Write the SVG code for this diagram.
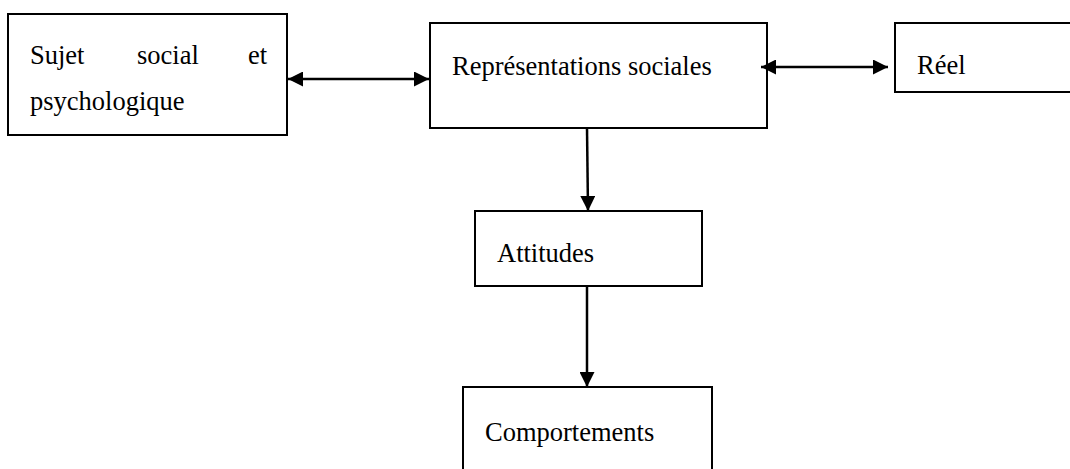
<svg xmlns="http://www.w3.org/2000/svg" width="1070" height="469" viewBox="0 0 1070 469">
  <style>
    .box { fill: #ffffff; stroke: #000000; stroke-width: 2; }
    .lbl { font-family: "Liberation Serif", "Times New Roman", serif; font-size: 26.5px; fill: #000000; }
    .conn { stroke: #000000; stroke-width: 2.5; fill: none; }
  </style>
  <defs>
    <marker id="ah" viewBox="0 0 16 16" refX="16" refY="8" markerWidth="16" markerHeight="15" markerUnits="userSpaceOnUse" orient="auto-start-reverse">
      <path d="M0,0 L16,8 L0,16 z" fill="#000000"/>
    </marker>
  </defs>
  <rect width="1070" height="469" fill="#ffffff"/>

  <g id="node-sujet">
    <rect class="box" x="8" y="14" width="279" height="121"/>
    <text class="lbl" x="30" y="64">Sujet</text>
    <text class="lbl" x="137" y="64">social</text>
    <text class="lbl" x="248" y="64">et</text>
    <text class="lbl" x="30" y="110">psychologique</text>
  </g>

  <g id="node-representations">
    <rect class="box" x="430" y="23" width="337" height="105"/>
    <text class="lbl" x="452" y="75">Représentations sociales</text>
  </g>

  <g id="node-reel">
    <rect class="box" x="895" y="23" width="185" height="69"/>
    <text class="lbl" x="917" y="74">Réel</text>
  </g>

  <g id="node-attitudes">
    <rect class="box" x="475" y="211" width="227" height="75"/>
    <text class="lbl" x="497" y="262">Attitudes</text>
  </g>

  <g id="node-comportements">
    <rect class="box" x="463" y="387" width="249" height="95"/>
    <text class="lbl" x="485" y="441">Comportements</text>
  </g>

  <g id="connectors">
    <line class="conn" x1="288" y1="79" x2="429" y2="79" marker-start="url(#ah)" marker-end="url(#ah)"/>
    <line class="conn" x1="761" y1="67" x2="888" y2="67" marker-start="url(#ah)" marker-end="url(#ah)"/>
    <line class="conn" x1="587" y1="128" x2="588" y2="211" marker-end="url(#ah)"/>
    <line class="conn" x1="587" y1="286" x2="587" y2="387" marker-end="url(#ah)"/>
  </g>
</svg>
